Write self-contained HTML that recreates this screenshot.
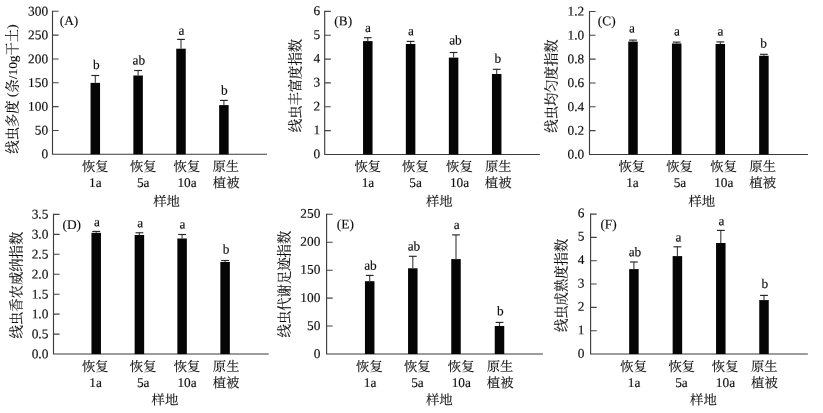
<!DOCTYPE html>
<html lang="zh-CN">
<head>
<meta charset="utf-8">
<title>线虫群落指数</title>
<style>
html,body{margin:0;padding:0;background:#fff;}
body{width:823px;height:413px;overflow:hidden;}
svg{display:block;}
text{font-family:"Liberation Serif", "Noto Serif CJK SC", serif;font-size:13.33px;fill:#0c0c0c;stroke:#0c0c0c;stroke-width:0.14px;stroke-linejoin:round;}
.ax{stroke:#3c3c3c;stroke-width:1.12;fill:none;}
.tk{stroke:#444;stroke-width:1.1;fill:none;}
.eb{stroke:#3a3a3a;stroke-width:1.1;fill:none;}
.cap{stroke:#262626;stroke-width:1.15;fill:none;}
.bar{fill:#050505;}
text.c{stroke-width:0.12px;}
</style>
</head>
<body>
<svg width="823" height="413" viewBox="0 0 823 413">
<rect width="823" height="413" fill="#fff"/>
<g>
<path class="ax" d="M52.50 10.70V154.30H267.00"/>
<text transform="translate(41.44 158.30) rotate(0.05)">0</text>
<text transform="translate(34.77 134.51) rotate(0.05)">50</text>
<text transform="translate(28.11 110.72) rotate(0.05)">100</text>
<text transform="translate(28.11 86.93) rotate(0.05)">150</text>
<text transform="translate(28.11 63.13) rotate(0.05)">200</text>
<text transform="translate(28.11 39.34) rotate(0.05)">250</text>
<text transform="translate(28.11 15.55) rotate(0.05)">300</text>
<path class="tk" d="M52.50 130.47h6.1M52.50 106.63h6.1M52.50 82.80h6.1M52.50 58.97h6.1M52.50 35.13h6.1M52.50 11.30h6.1"/>
<text class="c" transform="translate(16.75 153.65) rotate(-90)">线虫多度 <tspan dy="-1">(</tspan><tspan dy="1">条/10g干土</tspan><tspan dy="-1">)</tspan></text>
<text transform="translate(59.75 24.95) rotate(0.05)">(A)</text>
<rect class="bar" x="90.55" y="82.85" width="9.5" height="71.45"/>
<path class="eb" d="M95.30 75.50V82.85"/>
<path class="cap" d="M91.40 75.50h7.8"/>
<text transform="translate(92.90 69.05) rotate(0.05)">b</text>
<text class="c" transform="translate(82.00 171.20) rotate(0.05)">恢复</text>
<text transform="translate(89.10 187.00) rotate(0.05)">1a</text>
<rect class="bar" x="133.35" y="75.50" width="9.5" height="78.80"/>
<path class="eb" d="M138.10 70.50V75.50"/>
<path class="cap" d="M134.20 70.50h7.8"/>
<text transform="translate(132.60 64.55) rotate(0.05)">ab</text>
<text class="c" transform="translate(130.00 171.20) rotate(0.05)">恢复</text>
<text transform="translate(136.90 186.95) rotate(0.05)">5a</text>
<rect class="bar" x="176.25" y="48.70" width="9.5" height="105.60"/>
<path class="eb" d="M181.00 39.40V48.70"/>
<path class="cap" d="M177.10 39.40h7.8"/>
<text transform="translate(178.40 34.65) rotate(0.05)">a</text>
<text class="c" transform="translate(173.60 171.20) rotate(0.05)">恢复</text>
<text transform="translate(177.45 187.00) rotate(0.05)">10a</text>
<rect class="bar" x="219.15" y="105.10" width="9.5" height="49.20"/>
<path class="eb" d="M223.90 100.40V105.10"/>
<path class="cap" d="M220.00 100.40h7.8"/>
<text transform="translate(220.90 94.55) rotate(0.05)">b</text>
<text class="c" transform="translate(212.50 171.10) rotate(0.05)">原生</text>
<text class="c" transform="translate(212.85 187.45) rotate(0.05)">植被</text>
<text class="c" transform="translate(153.20 206.10) rotate(0.05)">样地</text>
</g>
<g>
<path class="ax" d="M324.70 10.80V154.45H539.80"/>
<text transform="translate(313.53 158.20) rotate(0.05)">0</text>
<text transform="translate(313.53 134.34) rotate(0.05)">1</text>
<text transform="translate(313.53 110.48) rotate(0.05)">2</text>
<text transform="translate(313.53 86.62) rotate(0.05)">3</text>
<text transform="translate(313.53 62.77) rotate(0.05)">4</text>
<text transform="translate(313.53 38.91) rotate(0.05)">5</text>
<text transform="translate(313.53 15.05) rotate(0.05)">6</text>
<path class="tk" d="M324.70 130.61h6.1M324.70 106.77h6.1M324.70 82.92h6.1M324.70 59.08h6.1M324.70 35.24h6.1M324.70 11.40h6.1"/>
<text class="c" transform="translate(300.40 132.20) rotate(-90)">线虫丰富度指数</text>
<text transform="translate(334.35 25.30) rotate(0.05)">(B)</text>
<rect class="bar" x="363.05" y="41.10" width="9.5" height="113.35"/>
<path class="eb" d="M367.80 37.70V41.10"/>
<path class="cap" d="M363.90 37.70h7.8"/>
<text transform="translate(365.10 32.05) rotate(0.05)">a</text>
<text class="c" transform="translate(354.40 171.20) rotate(0.05)">恢复</text>
<text transform="translate(361.70 187.00) rotate(0.05)">1a</text>
<rect class="bar" x="405.85" y="44.00" width="9.5" height="110.45"/>
<path class="eb" d="M410.60 41.40V44.00"/>
<path class="cap" d="M406.70 41.40h7.8"/>
<text transform="translate(407.90 35.35) rotate(0.05)">a</text>
<text class="c" transform="translate(402.10 171.20) rotate(0.05)">恢复</text>
<text transform="translate(409.30 186.95) rotate(0.05)">5a</text>
<rect class="bar" x="448.85" y="57.60" width="9.5" height="96.85"/>
<path class="eb" d="M453.60 52.50V57.60"/>
<path class="cap" d="M449.70 52.50h7.8"/>
<text transform="translate(449.20 44.55) rotate(0.05)">ab</text>
<text class="c" transform="translate(446.10 171.20) rotate(0.05)">恢复</text>
<text transform="translate(449.95 187.00) rotate(0.05)">10a</text>
<rect class="bar" x="491.95" y="74.00" width="9.5" height="80.45"/>
<path class="eb" d="M496.70 69.30V74.00"/>
<path class="cap" d="M492.80 69.30h7.8"/>
<text transform="translate(494.50 62.75) rotate(0.05)">b</text>
<text class="c" transform="translate(484.90 171.10) rotate(0.05)">原生</text>
<text class="c" transform="translate(484.85 187.45) rotate(0.05)">植被</text>
<text class="c" transform="translate(426.00 206.10) rotate(0.05)">样地</text>
</g>
<g>
<path class="ax" d="M589.50 10.90V154.45H807.90"/>
<text transform="translate(567.59 158.60) rotate(0.05)">0.0</text>
<text transform="translate(567.59 134.77) rotate(0.05)">0.2</text>
<text transform="translate(567.59 110.93) rotate(0.05)">0.4</text>
<text transform="translate(567.59 87.10) rotate(0.05)">0.6</text>
<text transform="translate(567.59 63.27) rotate(0.05)">0.8</text>
<text transform="translate(567.59 39.43) rotate(0.05)">1.0</text>
<text transform="translate(567.59 15.60) rotate(0.05)">1.2</text>
<path class="tk" d="M589.50 130.62h6.1M589.50 106.80h6.1M589.50 82.97h6.1M589.50 59.15h6.1M589.50 35.32h6.1M589.50 11.50h6.1"/>
<text class="c" transform="translate(556.10 132.70) rotate(-90)">线虫均匀度指数</text>
<text transform="translate(597.80 25.30) rotate(0.05)">(C)</text>
<rect class="bar" x="628.25" y="41.60" width="9.5" height="112.85"/>
<path class="eb" d="M633.00 40.10V41.60"/>
<path class="cap" d="M629.10 40.10h7.8"/>
<text transform="translate(629.00 32.55) rotate(0.05)">a</text>
<text class="c" transform="translate(618.40 171.20) rotate(0.05)">恢复</text>
<text transform="translate(626.20 187.00) rotate(0.05)">1a</text>
<rect class="bar" x="671.95" y="43.50" width="9.5" height="110.95"/>
<path class="eb" d="M676.70 42.10V43.50"/>
<path class="cap" d="M672.80 42.10h7.8"/>
<text transform="translate(674.00 35.55) rotate(0.05)">a</text>
<text class="c" transform="translate(666.20 171.20) rotate(0.05)">恢复</text>
<text transform="translate(673.70 186.95) rotate(0.05)">5a</text>
<rect class="bar" x="715.55" y="44.00" width="9.5" height="110.45"/>
<path class="eb" d="M720.30 41.90V44.00"/>
<path class="cap" d="M716.40 41.90h7.8"/>
<text transform="translate(717.50 35.45) rotate(0.05)">a</text>
<text class="c" transform="translate(710.30 171.20) rotate(0.05)">恢复</text>
<text transform="translate(714.15 187.00) rotate(0.05)">10a</text>
<rect class="bar" x="759.15" y="55.75" width="9.5" height="98.70"/>
<path class="eb" d="M763.90 54.30V55.75"/>
<path class="cap" d="M760.00 54.30h7.8"/>
<text transform="translate(760.30 47.55) rotate(0.05)">b</text>
<text class="c" transform="translate(749.30 171.10) rotate(0.05)">原生</text>
<text class="c" transform="translate(749.35 187.45) rotate(0.05)">植被</text>
<text class="c" transform="translate(688.40 206.10) rotate(0.05)">样地</text>
</g>
<g>
<path class="ax" d="M53.50 213.80V354.05H268.80"/>
<text transform="translate(31.64 358.30) rotate(0.05)">0.0</text>
<text transform="translate(31.64 338.33) rotate(0.05)">0.5</text>
<text transform="translate(31.64 318.36) rotate(0.05)">1.0</text>
<text transform="translate(31.64 298.39) rotate(0.05)">1.5</text>
<text transform="translate(31.64 278.41) rotate(0.05)">2.0</text>
<text transform="translate(31.64 258.44) rotate(0.05)">2.5</text>
<text transform="translate(31.64 238.47) rotate(0.05)">3.0</text>
<text transform="translate(31.64 218.50) rotate(0.05)">3.5</text>
<path class="tk" d="M53.50 334.10h6.1M53.50 314.15h6.1M53.50 294.20h6.1M53.50 274.25h6.1M53.50 254.30h6.1M53.50 234.35h6.1M53.50 214.40h6.1"/>
<text class="c" transform="translate(20.80 338.40) rotate(-90)">线虫香农威纳指数</text>
<text transform="translate(62.55 228.95) rotate(0.05)">(D)</text>
<rect class="bar" x="91.45" y="232.80" width="9.5" height="121.25"/>
<path class="eb" d="M96.20 231.40V232.80"/>
<path class="cap" d="M92.30 231.40h7.8"/>
<text transform="translate(94.10 226.35) rotate(0.05)">a</text>
<text class="c" transform="translate(81.90 371.20) rotate(0.05)">恢复</text>
<text transform="translate(89.30 387.00) rotate(0.05)">1a</text>
<rect class="bar" x="134.65" y="235.00" width="9.5" height="119.05"/>
<path class="eb" d="M139.40 232.80V235.00"/>
<path class="cap" d="M135.50 232.80h7.8"/>
<text transform="translate(137.30 227.15) rotate(0.05)">a</text>
<text class="c" transform="translate(129.80 371.20) rotate(0.05)">恢复</text>
<text transform="translate(136.90 386.95) rotate(0.05)">5a</text>
<rect class="bar" x="177.35" y="238.50" width="9.5" height="115.55"/>
<path class="eb" d="M182.10 234.50V238.50"/>
<path class="cap" d="M178.20 234.50h7.8"/>
<text transform="translate(179.50 228.55) rotate(0.05)">a</text>
<text class="c" transform="translate(173.70 371.20) rotate(0.05)">恢复</text>
<text transform="translate(177.45 387.00) rotate(0.05)">10a</text>
<rect class="bar" x="220.35" y="262.00" width="9.5" height="92.05"/>
<path class="eb" d="M225.10 260.50V262.00"/>
<path class="cap" d="M221.20 260.50h7.8"/>
<text transform="translate(222.70 253.55) rotate(0.05)">b</text>
<text class="c" transform="translate(212.80 371.10) rotate(0.05)">原生</text>
<text class="c" transform="translate(212.75 387.45) rotate(0.05)">植被</text>
<text class="c" transform="translate(151.60 404.50) rotate(0.05)">样地</text>
</g>
<g>
<path class="ax" d="M326.60 213.70V354.00H542.90"/>
<text transform="translate(313.63 358.00) rotate(0.05)">0</text>
<text transform="translate(306.97 329.95) rotate(0.05)">50</text>
<text transform="translate(300.31 301.90) rotate(0.05)">100</text>
<text transform="translate(300.31 273.85) rotate(0.05)">150</text>
<text transform="translate(300.31 245.80) rotate(0.05)">200</text>
<text transform="translate(300.31 217.75) rotate(0.05)">250</text>
<path class="tk" d="M326.60 326.06h6.1M326.60 298.12h6.1M326.60 270.18h6.1M326.60 242.24h6.1M326.60 214.30h6.1"/>
<text class="c" transform="translate(289.10 337.40) rotate(-90)">线虫代谢足迹指数</text>
<text transform="translate(336.85 228.40) rotate(0.05)">(E)</text>
<rect class="bar" x="364.95" y="281.20" width="9.5" height="72.80"/>
<path class="eb" d="M369.70 275.40V281.20"/>
<path class="cap" d="M365.80 275.40h7.8"/>
<text transform="translate(364.20 269.85) rotate(0.05)">ab</text>
<text class="c" transform="translate(356.10 371.20) rotate(0.05)">恢复</text>
<text transform="translate(363.80 387.00) rotate(0.05)">1a</text>
<rect class="bar" x="408.05" y="268.30" width="9.5" height="85.70"/>
<path class="eb" d="M412.80 256.30V268.30"/>
<path class="cap" d="M408.90 256.30h7.8"/>
<text transform="translate(407.70 250.45) rotate(0.05)">ab</text>
<text class="c" transform="translate(404.00 371.20) rotate(0.05)">恢复</text>
<text transform="translate(411.20 386.95) rotate(0.05)">5a</text>
<rect class="bar" x="451.25" y="259.10" width="9.5" height="94.90"/>
<path class="eb" d="M456.00 234.90V259.10"/>
<path class="cap" d="M452.10 234.90h7.8"/>
<text transform="translate(453.70 228.95) rotate(0.05)">a</text>
<text class="c" transform="translate(447.80 371.20) rotate(0.05)">恢复</text>
<text transform="translate(451.65 387.00) rotate(0.05)">10a</text>
<rect class="bar" x="494.75" y="326.00" width="9.5" height="28.00"/>
<path class="eb" d="M499.50 322.40V326.00"/>
<path class="cap" d="M495.60 322.40h7.8"/>
<text transform="translate(496.90 315.35) rotate(0.05)">b</text>
<text class="c" transform="translate(486.70 371.10) rotate(0.05)">原生</text>
<text class="c" transform="translate(486.85 387.45) rotate(0.05)">植被</text>
<text class="c" transform="translate(425.90 404.50) rotate(0.05)">样地</text>
</g>
<g>
<path class="ax" d="M590.60 213.50V354.00H807.90"/>
<text transform="translate(577.74 357.70) rotate(0.05)">0</text>
<text transform="translate(577.74 334.27) rotate(0.05)">1</text>
<text transform="translate(577.74 310.85) rotate(0.05)">2</text>
<text transform="translate(577.74 287.43) rotate(0.05)">3</text>
<text transform="translate(577.74 264.00) rotate(0.05)">4</text>
<text transform="translate(577.74 240.57) rotate(0.05)">5</text>
<text transform="translate(577.74 217.15) rotate(0.05)">6</text>
<path class="tk" d="M590.60 330.68h6.1M590.60 307.37h6.1M590.60 284.05h6.1M590.60 260.73h6.1M590.60 237.42h6.1M590.60 214.10h6.1"/>
<text class="c" transform="translate(566.40 332.05) rotate(-90)">线虫成熟度指数</text>
<text transform="translate(600.40 228.60) rotate(0.05)">(F)</text>
<rect class="bar" x="629.15" y="269.10" width="9.5" height="84.90"/>
<path class="eb" d="M633.90 262.00V269.10"/>
<path class="cap" d="M630.00 262.00h7.8"/>
<text transform="translate(628.70 256.25) rotate(0.05)">ab</text>
<text class="c" transform="translate(620.30 371.20) rotate(0.05)">恢复</text>
<text transform="translate(627.80 387.00) rotate(0.05)">1a</text>
<rect class="bar" x="672.65" y="256.10" width="9.5" height="97.90"/>
<path class="eb" d="M677.40 246.80V256.10"/>
<path class="cap" d="M673.50 246.80h7.8"/>
<text transform="translate(675.40 241.45) rotate(0.05)">a</text>
<text class="c" transform="translate(668.40 371.20) rotate(0.05)">恢复</text>
<text transform="translate(675.20 386.95) rotate(0.05)">5a</text>
<rect class="bar" x="716.05" y="243.00" width="9.5" height="111.00"/>
<path class="eb" d="M720.80 230.40V243.00"/>
<path class="cap" d="M716.90 230.40h7.8"/>
<text transform="translate(718.40 225.35) rotate(0.05)">a</text>
<text class="c" transform="translate(711.80 371.20) rotate(0.05)">恢复</text>
<text transform="translate(715.85 387.00) rotate(0.05)">10a</text>
<rect class="bar" x="759.25" y="300.10" width="9.5" height="53.90"/>
<path class="eb" d="M764.00 295.40V300.10"/>
<path class="cap" d="M760.10 295.40h7.8"/>
<text transform="translate(761.60 288.05) rotate(0.05)">b</text>
<text class="c" transform="translate(751.00 371.10) rotate(0.05)">原生</text>
<text class="c" transform="translate(751.05 387.45) rotate(0.05)">植被</text>
<text class="c" transform="translate(690.10 404.50) rotate(0.05)">样地</text>
</g>
</svg>
</body>
</html>
